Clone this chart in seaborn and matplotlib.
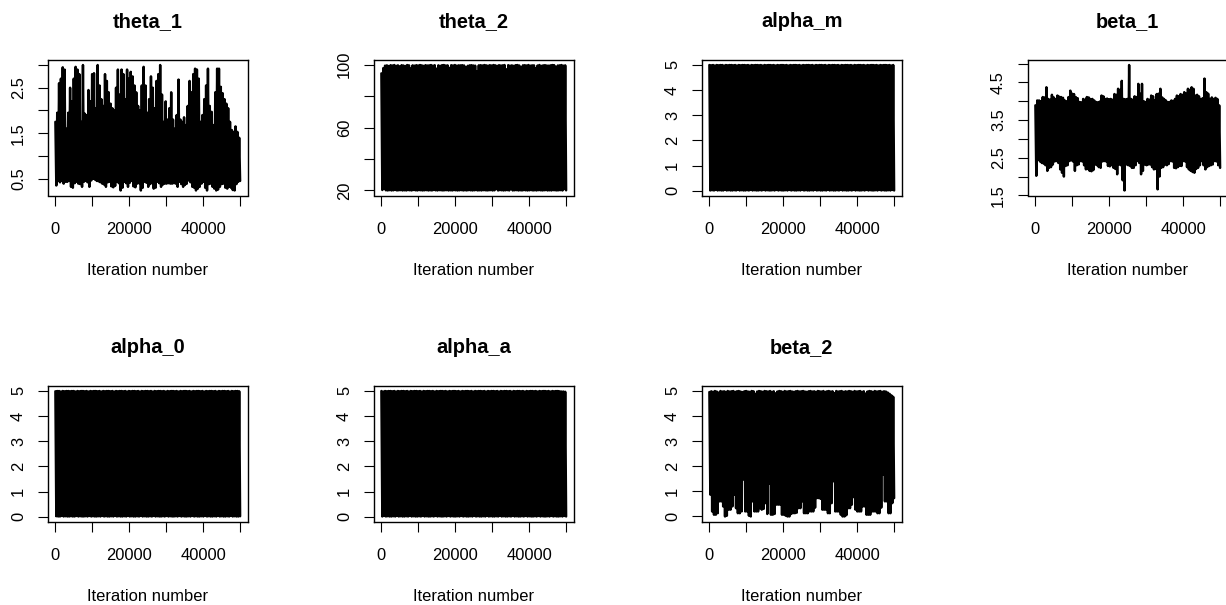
import numpy as np
import matplotlib
matplotlib.use("Agg")
import matplotlib.pyplot as plt
import seaborn as sns

# ---------------------------------------------------------------
# MCMC trace data: for every parameter the chain is stored as the
# successive upper and lower swings of the sampled values
# (101 of each over 50000 iterations).
# ---------------------------------------------------------------
n_iter = 50000

theta_1_hi = [1.75, 1.95, 2.6, 2.7, 2.95, 2.9, 1.6, 1.95, 2.5, 2.2,
              2.7, 2.96, 2.9, 2.8, 1.75, 3.0, 1.93, 1.9, 2.45, 2.2,
              2.8, 2.82, 2.05, 3.0, 2.55, 2.25, 2.1, 2.8, 2.65, 2.4,
              2.15, 2.05, 2.0, 2.5, 2.9, 2.35, 2.9, 2.8, 2.25, 2.9,
              2.7, 2.85, 2.75, 2.55, 2.4, 2.1, 2.0, 2.55, 2.96, 2.55,
              1.95, 2.25, 2.75, 2.5, 2.05, 2.65, 2.8, 3.0, 2.35, 1.75,
              2.2, 1.8, 2.05, 2.4, 1.8, 1.6, 1.9, 2.68, 1.8, 1.75,
              1.85, 1.68, 2.1, 2.65, 2.4, 2.8, 2.92, 2.9, 2.7, 1.75,
              1.9, 2.25, 2.55, 2.92, 2.1, 1.97, 1.68, 2.4, 2.92, 2.92,
              2.52, 2.38, 2.25, 2.15, 2.05, 1.75, 1.57, 1.53, 1.65, 1.53,
              1.4]
theta_1_lo = [0.35, 0.45, 0.42, 0.45, 0.39, 0.43, 0.43, 0.45, 0.32, 0.3,
              0.4, 0.43, 0.39, 0.38, 0.32, 0.43, 0.45, 0.42, 0.32, 0.46,
              0.5, 0.48, 0.45, 0.44, 0.42, 0.39, 0.37, 0.32, 0.42, 0.43,
              0.33, 0.31, 0.34, 0.43, 0.4, 0.24, 0.3, 0.43, 0.4, 0.32,
              0.41, 0.45, 0.33, 0.31, 0.39, 0.4, 0.24, 0.3, 0.43, 0.41,
              0.32, 0.38, 0.4, 0.28, 0.3, 0.43, 0.4, 0.32, 0.37, 0.39,
              0.39, 0.4, 0.39, 0.39, 0.4, 0.39, 0.32, 0.43, 0.38, 0.32,
              0.36, 0.39, 0.46, 0.42, 0.32, 0.3, 0.24, 0.28, 0.32, 0.39,
              0.43, 0.3, 0.24, 0.38, 0.39, 0.32, 0.28, 0.24, 0.26, 0.32,
              0.38, 0.39, 0.3, 0.28, 0.32, 0.3, 0.25, 0.24, 0.38, 0.43,
              0.45]

theta_2_hi = [94.5, 97.8, 99.4, 99.6, 99.2, 99.7, 99.5, 99.8, 99.3, 99.6,
              98.9, 99.7, 99.5, 99.2, 99.8, 99.6, 97.6, 99.6, 99.4, 99.7,
              99.5, 99.8, 99.6, 99.3, 99.7, 99.5, 99.6, 99.8, 99.4, 99.7,
              97.5, 99.6, 99.3, 99.7, 99.8, 99.5, 99.6, 98.0, 99.7, 99.5,
              99.8, 99.4, 99.6, 99.6, 99.7, 99.5, 98.3, 99.3, 99.6, 99.7,
              99.5, 99.4, 95.8, 99.6, 99.7, 99.5, 99.8, 99.6, 99.4, 99.7,
              99.5, 99.8, 99.6, 99.3, 99.7, 99.5, 99.6, 99.8, 97.1, 99.7,
              99.4, 99.6, 99.3, 99.7, 99.8, 99.5, 98.4, 99.6, 99.7, 99.5,
              99.8, 99.4, 99.6, 99.6, 97.8, 99.5, 99.8, 99.3, 99.6, 99.7,
              99.5, 99.4, 99.6, 99.8, 99.7, 98.6, 99.5, 99.6, 99.8, 99.4,
              99.6]
theta_2_lo = [20.3, 20.9, 20.1, 20.0, 20.2, 20.0, 20.1, 20.3, 20.0, 20.1,
              20.2, 20.0, 20.1, 20.0, 20.2, 20.1, 20.0, 20.3, 20.1, 20.0,
              20.2, 20.1, 20.0, 20.1, 20.2, 20.0, 20.1, 20.0, 20.3, 20.1,
              20.0, 20.2, 20.1, 20.0, 20.1, 20.2, 20.0, 20.1, 20.0, 20.2,
              20.1, 20.0, 20.1, 20.2, 20.0, 20.1, 20.0, 20.2, 20.1, 20.0,
              20.1, 20.2, 20.0, 20.1, 20.0, 20.2, 20.1, 20.0, 20.1, 20.2,
              20.0, 20.1, 20.9, 20.0, 20.2, 20.1, 20.0, 20.1, 20.2, 20.0,
              20.8, 20.0, 20.1, 20.2, 20.0, 20.1, 20.0, 20.2, 20.1, 20.0,
              20.1, 20.2, 20.0, 20.1, 20.0, 20.2, 20.1, 20.0, 20.1, 20.2,
              20.0, 20.1, 20.0, 20.2, 20.1, 20.0, 20.1, 20.2, 20.0, 20.9,
              20.1]

alpha_m_hi = [4.99, 4.98, 4.99, 4.97, 4.99, 4.98, 4.99, 4.99, 4.97, 4.99,
              4.98, 4.99, 4.99, 4.98, 4.99, 4.97, 4.99, 4.98, 4.99, 4.99,
              4.98, 4.99, 4.97, 4.99, 4.98, 4.99, 4.99, 4.98, 4.99, 4.97,
              4.99, 4.98, 4.99, 4.99, 4.98, 4.99, 4.97, 4.99, 4.98, 4.99,
              4.99, 4.98, 4.99, 4.97, 4.99, 4.98, 4.99, 4.99, 4.98, 4.99,
              4.97, 4.99, 4.98, 4.99, 4.99, 4.98, 4.99, 4.97, 4.99, 4.98,
              4.99, 4.99, 4.98, 4.99, 4.97, 4.99, 4.98, 4.99, 4.99, 4.98,
              4.99, 4.97, 4.99, 4.98, 4.99, 4.99, 4.98, 4.99, 4.97, 4.99,
              4.98, 4.99, 4.99, 4.98, 4.99, 4.97, 4.99, 4.98, 4.99, 4.99,
              4.98, 4.99, 4.97, 4.99, 4.98, 4.99, 4.99, 4.98, 4.99, 4.97,
              4.99]
alpha_m_lo = [0.01, 0.02, 0.01, 0.03, 0.01, 0.02, 0.01, 0.01, 0.03, 0.01,
              0.02, 0.01, 0.01, 0.02, 0.01, 0.03, 0.01, 0.02, 0.01, 0.01,
              0.02, 0.01, 0.03, 0.01, 0.02, 0.01, 0.01, 0.02, 0.01, 0.03,
              0.01, 0.02, 0.01, 0.01, 0.02, 0.01, 0.03, 0.01, 0.02, 0.01,
              0.01, 0.02, 0.01, 0.03, 0.01, 0.02, 0.01, 0.01, 0.02, 0.01,
              0.03, 0.01, 0.02, 0.01, 0.01, 0.02, 0.01, 0.03, 0.01, 0.02,
              0.01, 0.01, 0.02, 0.01, 0.03, 0.01, 0.02, 0.01, 0.01, 0.02,
              0.01, 0.03, 0.01, 0.02, 0.01, 0.01, 0.02, 0.01, 0.03, 0.01,
              0.02, 0.01, 0.01, 0.02, 0.01, 0.03, 0.01, 0.02, 0.01, 0.01,
              0.02, 0.01, 0.03, 0.01, 0.02, 0.01, 0.01, 0.02, 0.01, 0.03,
              0.01]

beta_1_hi = [3.89, 4.02, 4.02, 4.0, 4.11, 4.1, 4.37, 4.06, 4.04, 4.17,
             4.1, 4.06, 4.15, 4.12, 4.11, 4.09, 4.02, 4.0, 4.11, 4.28,
             4.2, 4.19, 4.11, 4.08, 3.98, 3.97, 4.06, 4.04, 4.11, 4.1,
             4.06, 4.06, 4.02, 3.98, 3.97, 3.99, 4.15, 4.13, 4.06, 4.07,
             4.05, 4.06, 4.04, 4.19, 4.17, 4.33, 4.3, 4.54, 4.06, 4.05,
             4.06, 4.96, 4.06, 4.04, 4.13, 4.11, 4.46, 4.2, 4.46, 4.0,
             3.98, 4.06, 4.04, 4.15, 4.13, 4.02, 4.19, 4.2, 4.33, 4.1,
             4.06, 4.02, 3.98, 3.98, 4.02, 4.01, 4.06, 4.15, 4.13, 4.19,
             4.17, 4.24, 4.2, 4.33, 4.3, 4.37, 4.33, 4.15, 4.17, 4.13,
             4.06, 4.08, 4.6, 4.24, 4.2, 4.06, 4.1, 4.06, 4.09, 4.06,
             3.89]
beta_1_lo = [2.02, 2.45, 2.4, 2.36, 2.34, 2.3, 2.15, 2.23, 2.25, 2.32,
             2.4, 2.41, 2.36, 2.19, 2.1, 2.0, 2.28, 2.3, 2.41, 2.43,
             2.4, 2.15, 2.3, 2.32, 2.41, 2.4, 2.3, 2.19, 2.2, 2.15,
             2.14, 2.17, 2.32, 2.3, 2.25, 2.23, 2.4, 2.41, 2.4, 2.28,
             2.27, 2.3, 2.23, 2.2, 2.06, 2.32, 2.3, 1.9, 1.63, 2.32,
             2.3, 2.28, 2.23, 2.23, 2.3, 2.41, 2.36, 2.06, 2.15, 2.32,
             2.3, 2.32, 2.32, 2.25, 2.19, 2.2, 1.66, 2.0, 2.23, 2.25,
             2.32, 2.3, 2.33, 2.41, 2.4, 2.23, 2.22, 2.25, 2.28, 2.28,
             2.41, 2.4, 2.25, 2.19, 2.15, 2.12, 2.1, 2.2, 2.23, 2.3,
             2.41, 2.3, 2.19, 2.25, 2.28, 2.3, 2.32, 2.41, 2.4, 2.3,
             2.23]

alpha_0_hi = [4.98, 4.99, 4.99, 4.97, 4.99, 4.98, 4.99, 4.99, 4.98, 4.99,
              4.99, 4.97, 4.99, 4.98, 4.99, 4.99, 4.98, 4.99, 4.97, 4.99,
              4.98, 4.99, 4.99, 4.98, 4.99, 4.97, 4.99, 4.98, 4.99, 4.99,
              4.98, 4.99, 4.97, 4.99, 4.98, 4.99, 4.99, 4.98, 4.99, 4.97,
              4.99, 4.98, 4.99, 4.99, 4.98, 4.99, 4.97, 4.99, 4.98, 4.99,
              4.99, 4.98, 4.99, 4.97, 4.99, 4.98, 4.99, 4.99, 4.98, 4.99,
              4.97, 4.99, 4.98, 4.99, 4.99, 4.98, 4.99, 4.97, 4.99, 4.98,
              4.99, 4.99, 4.98, 4.99, 4.97, 4.99, 4.98, 4.99, 4.99, 4.98,
              4.99, 4.97, 4.99, 4.98, 4.99, 4.99, 4.98, 4.99, 4.97, 4.99,
              4.98, 4.99, 4.99, 4.98, 4.99, 4.97, 4.99, 4.98, 4.99, 4.99,
              4.98]
alpha_0_lo = [0.02, 0.01, 0.01, 0.03, 0.01, 0.02, 0.01, 0.01, 0.02, 0.01,
              0.01, 0.03, 0.01, 0.02, 0.01, 0.01, 0.02, 0.01, 0.03, 0.01,
              0.02, 0.01, 0.01, 0.02, 0.01, 0.03, 0.01, 0.02, 0.01, 0.01,
              0.02, 0.01, 0.03, 0.01, 0.02, 0.01, 0.01, 0.02, 0.01, 0.03,
              0.01, 0.02, 0.01, 0.01, 0.02, 0.01, 0.03, 0.01, 0.02, 0.01,
              0.01, 0.02, 0.01, 0.03, 0.01, 0.02, 0.01, 0.01, 0.02, 0.01,
              0.03, 0.01, 0.02, 0.01, 0.01, 0.02, 0.01, 0.03, 0.01, 0.02,
              0.01, 0.01, 0.02, 0.01, 0.03, 0.01, 0.02, 0.01, 0.01, 0.02,
              0.01, 0.03, 0.01, 0.02, 0.01, 0.01, 0.02, 0.01, 0.03, 0.01,
              0.02, 0.01, 0.01, 0.02, 0.01, 0.03, 0.01, 0.02, 0.01, 0.01,
              0.02]

alpha_a_hi = [4.99, 4.97, 4.99, 4.98, 4.99, 4.99, 4.98, 4.99, 4.97, 4.99,
              4.98, 4.99, 4.99, 4.98, 4.99, 4.97, 4.99, 4.98, 4.99, 4.99,
              4.98, 4.99, 4.97, 4.99, 4.98, 4.99, 4.99, 4.98, 4.99, 4.97,
              4.99, 4.98, 4.99, 4.99, 4.98, 4.99, 4.97, 4.99, 4.98, 4.99,
              4.99, 4.98, 4.99, 4.97, 4.99, 4.98, 4.99, 4.99, 4.98, 4.99,
              4.97, 4.99, 4.98, 4.99, 4.99, 4.98, 4.99, 4.97, 4.99, 4.98,
              4.99, 4.99, 4.98, 4.99, 4.97, 4.99, 4.98, 4.99, 4.99, 4.98,
              4.99, 4.97, 4.99, 4.98, 4.99, 4.99, 4.98, 4.99, 4.97, 4.99,
              4.98, 4.99, 4.99, 4.98, 4.99, 4.97, 4.99, 4.98, 4.99, 4.99,
              4.98, 4.99, 4.97, 4.99, 4.98, 4.99, 4.99, 4.98, 4.97, 4.97,
              4.96]
alpha_a_lo = [0.01, 0.03, 0.01, 0.02, 0.01, 0.01, 0.02, 0.01, 0.03, 0.01,
              0.02, 0.01, 0.01, 0.02, 0.01, 0.03, 0.01, 0.02, 0.01, 0.01,
              0.02, 0.01, 0.03, 0.01, 0.02, 0.01, 0.01, 0.02, 0.01, 0.03,
              0.01, 0.02, 0.01, 0.01, 0.02, 0.01, 0.03, 0.01, 0.02, 0.01,
              0.01, 0.02, 0.01, 0.03, 0.01, 0.02, 0.01, 0.01, 0.02, 0.01,
              0.03, 0.01, 0.02, 0.01, 0.01, 0.02, 0.01, 0.03, 0.01, 0.02,
              0.01, 0.01, 0.02, 0.01, 0.03, 0.01, 0.02, 0.01, 0.01, 0.02,
              0.01, 0.03, 0.01, 0.02, 0.01, 0.01, 0.02, 0.01, 0.03, 0.01,
              0.02, 0.01, 0.01, 0.02, 0.01, 0.03, 0.01, 0.02, 0.01, 0.01,
              0.02, 0.01, 0.03, 0.01, 0.02, 0.01, 0.01, 0.02, 0.01, 0.03,
              0.01]

beta_2_hi = [4.95, 4.98, 4.96, 4.99, 4.97, 4.93, 4.99, 4.97, 4.98, 4.96,
             4.99, 4.97, 4.98, 4.99, 4.96, 4.98, 4.99, 4.97, 4.95, 4.98,
             4.99, 4.97, 4.96, 4.99, 4.98, 4.88, 4.97, 4.99, 4.98, 4.96,
             4.99, 4.98, 4.97, 4.99, 4.96, 4.98, 4.9, 4.97, 4.99, 4.98,
             4.96, 4.99, 4.97, 4.98, 4.99, 4.97, 4.96, 4.98, 4.99, 4.97,
             4.98, 4.99, 4.97, 4.96, 4.98, 4.99, 4.97, 4.98, 4.96, 4.99,
             4.98, 4.97, 4.99, 4.96, 4.98, 4.99, 4.97, 4.98, 4.91, 4.99,
             4.97, 4.98, 4.99, 4.96, 4.98, 4.97, 4.99, 4.98, 4.96, 4.99,
             4.97, 4.98, 4.99, 4.96, 4.98, 4.89, 4.97, 4.99, 4.98, 4.96,
             4.99, 4.97, 4.98, 4.99, 4.96, 4.98, 4.97, 4.93, 4.88, 4.82,
             4.76]
beta_2_lo = [0.87, 0.2, 0.07, 0.07, 0.13, 0.6, 0.6, 0.4, 0.0, 0.03,
             0.27, 0.27, 0.4, 0.87, 0.33, 0.13, 0.13, 0.2, 1.47, 0.2,
             0.2, 0.03, 0.0, 0.6, 0.2, 0.2, 0.2, 0.33, 0.27, 0.3,
             0.53, 0.1, 1.3, 0.07, 0.07, 0.1, 0.47, 0.47, 0.47, 0.07,
             0.07, 0.03, 0.0, 0.0, 0.1, 0.13, 0.13, 0.15, 0.33, 0.33,
             0.6, 0.13, 0.13, 0.13, 0.2, 0.2, 0.2, 0.35, 0.73, 0.73,
             0.7, 0.27, 0.27, 0.27, 0.13, 0.13, 0.53, 1.4, 0.2, 0.2,
             0.2, 0.07, 0.0, 0.0, 0.05, 0.33, 0.33, 0.47, 0.77, 0.27,
             0.2, 0.2, 0.2, 0.4, 0.4, 0.07, 0.07, 0.07, 0.2, 0.2,
             0.2, 0.13, 0.13, 0.35, 1.67, 0.6, 0.6, 0.13, 0.13, 0.53,
             0.73]

x_ticks = [0, 10000, 20000, 30000, 40000, 50000]
x_tick_labels = ["0", "", "20000", "", "40000", ""]

theta_1_ticks = [0.5, 1.0, 1.5, 2.0, 2.5, 3.0]
theta_1_tick_labels = ["0.5", "", "1.5", "", "2.5", ""]
theta_2_ticks = [20, 40, 60, 80, 100]
theta_2_tick_labels = ["20", "", "60", "", "100"]
unit5_ticks = [0, 1, 2, 3, 4, 5]
unit5_tick_labels = ["0", "1", "2", "3", "4", "5"]
beta_1_ticks = [1.5, 2.0, 2.5, 3.0, 3.5, 4.0, 4.5, 5.0]
beta_1_tick_labels = ["1.5", "", "2.5", "", "3.5", "", "4.5", ""]

panels = [
    ("theta_1", theta_1_hi, theta_1_lo, theta_1_ticks, theta_1_tick_labels),
    ("theta_2", theta_2_hi, theta_2_lo, theta_2_ticks, theta_2_tick_labels),
    ("alpha_m", alpha_m_hi, alpha_m_lo, unit5_ticks, unit5_tick_labels),
    ("beta_1", beta_1_hi, beta_1_lo, beta_1_ticks, beta_1_tick_labels),
    ("alpha_0", alpha_0_hi, alpha_0_lo, unit5_ticks, unit5_tick_labels),
    ("alpha_a", alpha_a_hi, alpha_a_lo, unit5_ticks, unit5_tick_labels),
    ("beta_2", beta_2_hi, beta_2_lo, unit5_ticks, unit5_tick_labels),
]

# ---------------------------------------------------------------
# Figure: 2 x 4 grid of base-graphics style trace plots
# ---------------------------------------------------------------
sns.set_theme(style="white")
plt.rcParams["font.family"] = ["Liberation Sans", "DejaVu Sans"]

W, H = 1226, 605
fig = plt.figure(figsize=(W / 100, H / 100), dpi=100)
fig.patch.set_facecolor("white")

col_left = [48, 374, 702, 1028]
row_top = [60, 386]
box_w, box_h = 199.5, 135.5

for k, (name, hi, lo, yt, ytl) in enumerate(panels):
    r, c = divmod(k, 4)
    left = col_left[c] / W
    bottom = (H - row_top[r] - box_h) / H
    ax = fig.add_axes([left, bottom, box_w / W, box_h / H])

    trace = np.empty(2 * len(hi))
    trace[0::2] = hi
    trace[1::2] = lo
    iters = np.linspace(1, n_iter, trace.size)

    sns.lineplot(x=iters, y=trace, ax=ax, color="black", linewidth=1.75,
                 estimator=None, sort=False, legend=False)

    span = n_iter - 1
    ax.set_xlim(1 - 0.04 * span, n_iter + 0.04 * span)
    lo_v, hi_v = trace.min(), trace.max()
    pad = 0.04 * (hi_v - lo_v)
    ax.set_ylim(lo_v - pad, hi_v + pad)

    ax.set_xticks(x_ticks)
    ax.set_xticklabels(x_tick_labels, fontsize=11.9, color="black")
    ax.set_yticks(yt)
    ax.set_yticklabels(ytl, fontsize=11.9, color="black",
                       rotation=90, va="center")

    ax.tick_params(axis="both", direction="out", length=7.2, width=0.8,
                   color="black", bottom=True, left=True, top=False, right=False)
    ax.tick_params(axis="x", pad=12.0)
    ax.tick_params(axis="y", pad=8.6)

    for sp in ax.spines.values():
        sp.set_visible(True)
        sp.set_color("black")
        sp.set_linewidth(1.0)

    ax.set_xlabel("Iteration number", fontsize=11.9, color="black", labelpad=18.4)
    ax.set_ylabel("")
    ax.set_title(name, fontsize=14.4, fontweight="bold", color="black", pad=23.8)
    ax.grid(False)

fig.savefig("out.png", dpi=100, facecolor="white")
